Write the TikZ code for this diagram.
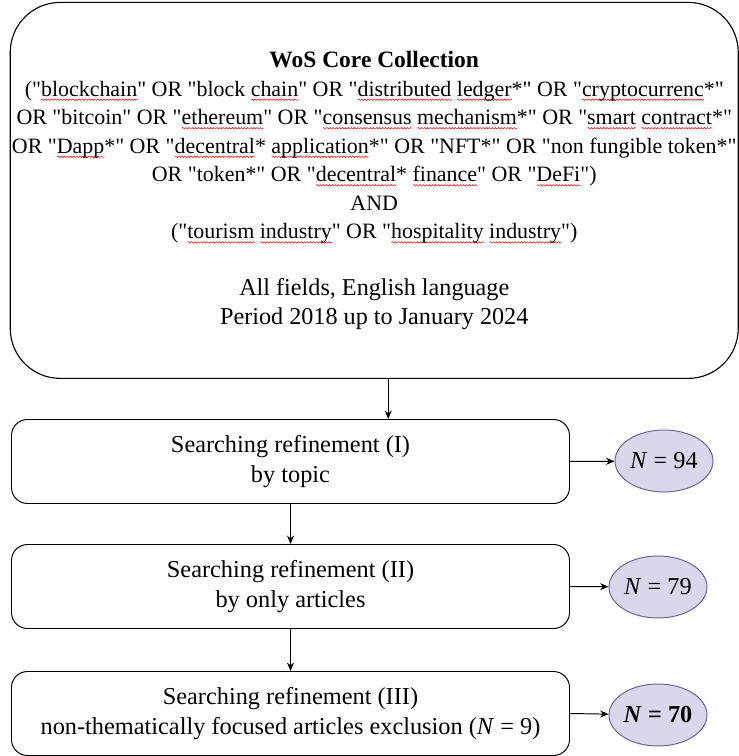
\documentclass[tikz,border=0pt]{standalone}
\usepackage{fontspec}
\setmainfont{Liberation Serif}[Ligatures=TeXOff]
\usetikzlibrary{shapes.geometric,decorations.pathmorphing,arrows.meta}
\definecolor{nfill}{RGB}{216,215,236}
\definecolor{nline}{RGB}{105,100,150}
% red wavy underline as in the source
\newlength\sqw
\newcommand\sq[1]{\settowidth\sqw{#1}\rlap{\smash{\tikz[baseline=2.6pt]\draw[red, sharp corners, line width=0.35pt, decorate, decoration={snake, amplitude=0.55pt, segment length=2.2pt}] (0,0) -- (\sqw,0);}}#1}
\newcommand\qsize{\fontsize{15.6}{20.3}\selectfont}

\begin{document}
\begin{tikzpicture}[>={Stealth[length=6pt,width=5pt]}, line width=0.7pt,
	query/.style={draw, rounded corners=1.25cm, line width=0.8pt, minimum width=18.2cm, minimum height=9.4cm, align=center, inner sep=0pt, font=\fontsize{17.2}{20.3}\selectfont},
	stage/.style={draw, rounded corners=0.4cm, minimum width=13.95cm, minimum height=2.1cm, align=center, font=\fontsize{17.3}{21.3}\selectfont},
	count/.style={ellipse, draw=nline, fill=nfill, minimum width=2.45cm, minimum height=1.55cm, inner sep=0pt, font=\fontsize{17.3}{21.3}\selectfont}]
	\useasboundingbox (0, 0) rectangle (18.475, 18.9);
	\node[query] (wos) at (9.356, 14.14) {{\fontsize{16.7}{20.3}\selectfont\textbf{WoS Core Collection}}\\
		{\qsize ("\sq{blockchain}" OR "block \sq{chain}" OR "\sq{distributed} \sq{ledger}*" OR "\sq{cryptocurrenc}*"}\\
		{\qsize OR "bitcoin" OR "\sq{ethereum}" OR "\sq{consensus} \sq{mechanism}*" OR "\sq{smart} \sq{contract}*"}\\
		{\qsize OR "\sq{Dapp}*" OR "\sq{decentral}* \sq{application}*" OR "NFT*" OR "non fungible token*"}\\
		{\qsize OR "token*" OR "\sq{decentral}* \sq{finance}" OR "\sq{DeFi}")}\\
		{\qsize AND}\\
		{\qsize ("\sq{tourism} \sq{industry}" OR "\sq{hospitality} \sq{industry}")}\\[20.3pt]
		All fields, English language\\
		Period 2018 up to January 2024};
	\node[stage] (s1) at (7.2625, 7.3625) {Searching refinement (I)\\by topic};
	\node[stage] (s2) at (7.2625, 4.2375) {Searching refinement (II)\\by only articles};
	\node[stage] (s3) at (7.2625, 1.0625) {Searching refinement (III)\\non-thematically focused articles exclusion (\textit{N} = 9)};
	\node[count] (n1) at (16.6, 7.375) {\textit{N} = 94};
	\node[count] (n2) at (16.45, 4.225) {\textit{N} = 79};
	\node[count] (n3) at (16.45, 1.025) {\textbf{\textit{N} = 70}};
	\coordinate (t0) at ([xshift=0.35cm]wos.south);
	\draw[->] (t0) -- (t0 |- s1.north);
	\draw[->] (s1) -- (s2);
	\draw[->] (s2) -- (s3);
	\draw[->] (s1.east) -- (n1);
	\draw[->] (s2.east) -- (n2);
	\draw[->] (s3.east) -- (n3);
\end{tikzpicture}
\end{document}
